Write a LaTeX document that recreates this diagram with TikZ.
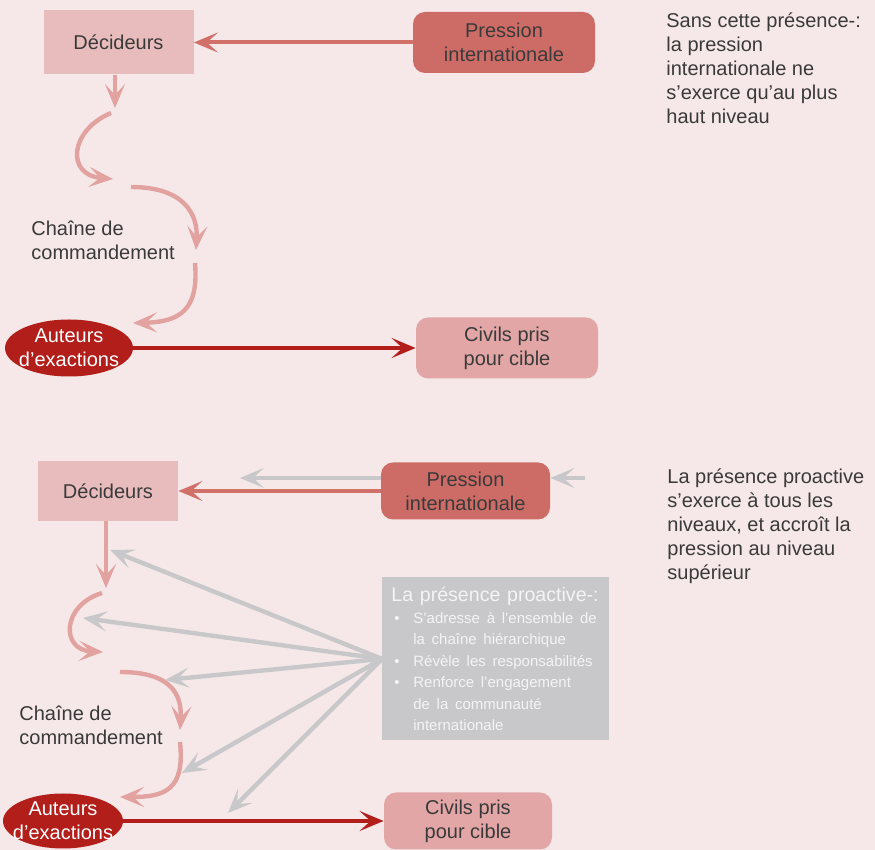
\documentclass[tikz,border=0pt]{standalone}
\usepackage{fontspec}
\setmainfont{Liberation Sans}
\usetikzlibrary{arrows.meta,shapes.geometric}

\definecolor{bgpink}{RGB}{246,232,232}
\definecolor{decbox}{RGB}{232,188,188}
\definecolor{presbox}{RGB}{205,108,102}
\definecolor{auteurred}{RGB}{178,30,26}
\definecolor{civbox}{RGB}{226,166,166}
\definecolor{chainpink}{RGB}{226,162,160}
\definecolor{presred}{RGB}{208,112,104}
\definecolor{proagrey}{RGB}{200,200,202}
\definecolor{txtgrey}{RGB}{58,58,58}
\definecolor{protxt}{RGB}{244,244,244}

\newcommand\puce{\noindent\makebox[11pt][l]{\hspace{1.5pt}\textbullet}}
\newcommand\retrait{\noindent\hspace*{11pt}}

\begin{document}
\begin{tikzpicture}[x=0.5pt,y=-0.5pt,
    font=\fontsize{10}{12}\selectfont,text=txtgrey,
    decideur/.style={fill=decbox,inner sep=0pt},
    pression/.style={fill=presbox,rounded corners=6pt,inner sep=0pt,align=center},
    auteur/.style={ellipse,fill=auteurred,inner sep=0pt},
    civil/.style={fill=civbox,rounded corners=6pt,inner sep=0pt,align=center},
    note/.style={align=left,anchor=north west,inner sep=0pt},
    probox/.style={fill=proagrey,text=protxt,anchor=north west,inner sep=4.5pt,
      text width=104.5pt,minimum height=81.5pt},
    tip/.style={-{Stealth[length=12pt,width=10pt,inset=5.5pt]}},
    chaine/.style={tip,chainpink,line width=2.2pt},
    presarrow/.style={tip,presred,line width=2pt},
    exarrow/.style={tip,auteurred,line width=2pt},
    proarrow/.style={tip,proagrey,line width=2.2pt}]
  \useasboundingbox (0,0) rectangle (875,850);
  \fill[bgpink] (0,0) rectangle (875,850);

  %% sans presence
  \node[decideur,minimum width=75pt,minimum height=32pt] (dec1) at (118.5,42.5) {Décideurs};
  \node[pression,minimum width=91pt,minimum height=30.5pt] (pres1) at (504,42.5) {Pression\\internationale};
  \node[auteur,minimum width=64pt,minimum height=28.5pt,
    label={[text=white,align=center]center:Auteurs\\d’exactions}] (aut1) at (69,348) {};
  \node[civil,minimum width=91pt,minimum height=30.5pt] (civ1) at (507,348) {Civils pris\\pour cible};
  \node[note] (chaine1) at (31,221) {Chaîne de\\commandement};
  \node[note] (txt1) at (666,12) {Sans cette présence-:\\la pression\\internationale ne\\s’exerce qu’au plus\\haut niveau};

  \draw[presarrow] (pres1) -- (dec1);
  \draw[exarrow] (aut1) -- (civ1);

  \coordinate (a1) at (115,108);
  \coordinate (b0) at (111,113);
  \coordinate (b1) at (113,179);
  \coordinate (c0) at (131,187);
  \coordinate (c1) at (196,250);
  \coordinate (d0) at (195,263);
  \coordinate (d1) at (133,323);
  \draw[chaine] ([xshift=-1.75pt]dec1.south) -- (a1);
  \draw[chaine] (b0) .. controls (70,130) and (65,175) .. (b1);
  \draw[chaine] (c0) .. controls (185,187) and (198,215) .. (c1);
  \draw[chaine] (d0) .. controls (199,310) and (180,322) .. (d1);

  %% avec presence proactive
  \node[decideur,minimum width=70pt,minimum height=30pt] (dec2) at (108,491) {Décideurs};
  \node[pression,minimum width=84.5pt,minimum height=28.5pt] (pres2) at (465.5,491) {Pression\\internationale};
  \node[auteur,minimum width=60pt,minimum height=27.5pt,
    label={[text=white,align=center]center:Auteurs\\d’exactions}] (aut2) at (63,821) {};
  \node[civil,minimum width=84pt,minimum height=28.5pt] (civ2) at (468,821) {Civils pris\\pour cible};
  \node[note] (chaine2) at (19,706) {Chaîne de\\commandement};
  \node[note] (txt2) at (667,468) {La présence proactive\\s’exerce à tous les\\niveaux, et accroît la\\pression au niveau\\supérieur};

  \coordinate (g0) at (585,478);
  \coordinate (g1) at (240,478);
  \draw[proarrow] (g0) -- (pres2.east |- g0);
  \draw[proarrow] (pres2.west |- g1) -- (g1);
  \draw[presarrow] (pres2) -- (dec2);
  \draw[exarrow] (aut2) -- (civ2);

  \coordinate (k1) at (106,588);
  \coordinate (m0) at (102,593);
  \coordinate (m1) at (103,652);
  \coordinate (n0) at (120,672);
  \coordinate (n1) at (180,730);
  \coordinate (p0) at (180,742);
  \coordinate (p1) at (120,797);
  \draw[chaine] ([xshift=-1pt]dec2.south) -- (k1);
  \draw[chaine] (m0) .. controls (62,605) and (60,650) .. (m1);
  \draw[chaine] (n0) .. controls (172,672) and (182,695) .. (n1);
  \draw[chaine] (p0) .. controls (185,790) and (165,797) .. (p1);

  %% fleches grises
  \coordinate (t1) at (110,550);
  \coordinate (t2) at (83,618);
  \coordinate (t3) at (165,680);
  \coordinate (t4) at (182,773);
  \coordinate (t5) at (228,813);
  \node[probox] (proactive) at (382,577) {%
    \raggedright\parindent=0pt
    {\fontsize{9.8}{12}\selectfont\mbox{La présence proactive-:}\par}
    \fontsize{7.5}{10.75}\selectfont
    \puce S’adresse à l’ensemble de\par
    \retrait la chaîne hiérarchique\par
    \puce Révèle les responsabilités\par
    \puce Renforce l’engagement\par
    \retrait de la communauté\par
    \retrait internationale\par};
  \foreach \t in {t1,t2,t3,t4,t5}
    \draw[proarrow] (proactive.west) -- (\t);
\end{tikzpicture}
\end{document}
